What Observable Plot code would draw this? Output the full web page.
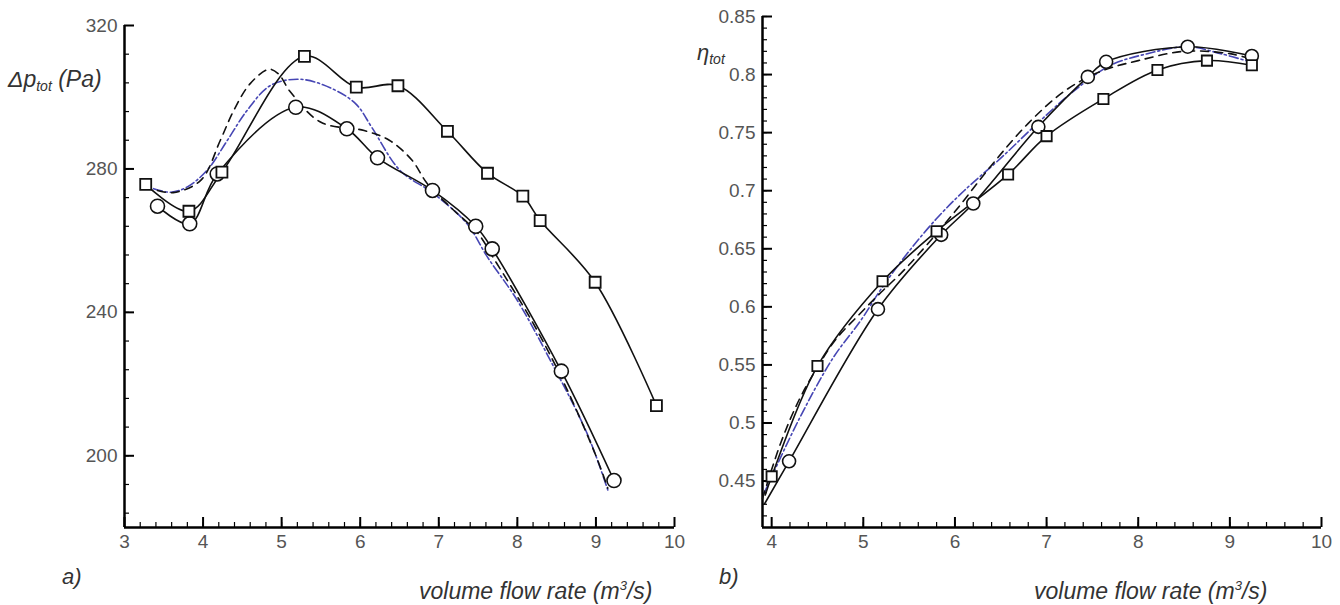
<!DOCTYPE html>
<html><head><meta charset="utf-8">
<script src="https://cdn.jsdelivr.net/npm/d3@7"></script>
<script src="https://cdn.jsdelivr.net/npm/@observablehq/plot@0.6"></script>
<style>
body{margin:0;background:#fff;font-family:"Liberation Sans",Arial,sans-serif;}
#wrap{position:relative;width:1340px;height:605px;overflow:hidden;background:#fff;}
#left{position:absolute;left:0;top:0;}
#right{position:absolute;left:690px;top:0;}
.lbl{position:absolute;font-style:italic;color:#333;white-space:nowrap;line-height:1;}
.sb{font-size:14px;position:relative;top:4px;}
.sp{font-size:13px;position:relative;top:-9px;}
</style></head><body>
<div id="wrap">
<div id="left"></div><div id="right"></div>
<div class="lbl" style="left:8px;top:68px;font-size:23px">Δp<span class="sb">tot</span> (Pa)</div>
<div class="lbl" style="left:697px;top:42px;font-size:22px">η<span class="sb">tot</span></div>
<div class="lbl" style="left:62px;top:566px;font-size:22px">a)</div>
<div class="lbl" style="left:719px;top:566px;font-size:22px">b)</div>
<div class="lbl" style="left:419px;top:580px;font-size:23px">volume flow rate (m<span class="sp">3</span>/s)</div>
<div class="lbl" style="left:1034px;top:580px;font-size:23px">volume flow rate (m<span class="sp">3</span>/s)</div>
</div>
<script>
// ---------- Panel a) total pressure rise ----------
const aXTicks = [3, 4, 5, 6, 7, 8, 9, 10];
const aYTicks = [200, 240, 280, 320];
const aSqX = [3.27, 3.82, 4.24, 5.29, 5.95, 6.48, 7.11, 7.62, 8.07, 8.29, 8.99, 9.77];
const aSqY = [275.7, 268.2, 279.1, 311.4, 302.8, 303.2, 290.5, 278.8, 272.4, 265.6, 248.4, 214.0];
const aCiX = [3.42, 3.83, 4.18, 5.18, 5.83, 6.22, 6.92, 7.47, 7.68, 8.56, 9.23];
const aCiY = [269.6, 264.7, 278.6, 297.2, 291.2, 283.1, 274.0, 264.0, 257.7, 223.6, 193.1];
const aDaX = [3.42, 3.62, 3.97, 4.22, 4.39, 4.6, 4.84, 4.96, 5.11, 5.5, 6.05, 6.37, 6.66, 6.85, 7.15, 7.5, 7.7, 8.2, 8.6, 9.0, 9.15];
const aDaY = [274, 273.4, 276.8, 288, 296.3, 303.8, 307.8, 306.5, 301.5, 293, 290.7, 288, 282.4, 276, 269.3, 262, 255, 237, 220, 200, 191];
const aBlX = [3.37, 3.59, 3.8, 4.05, 4.31, 4.56, 4.86, 5.24, 5.66, 5.95, 6.15, 6.51, 6.93, 7.36, 7.62, 8.0, 8.42, 8.89, 9.16];
const aBlY = [274.5, 273.5, 275, 279.6, 288, 296.3, 303.3, 305, 302.2, 298, 291.5, 279.5, 273.2, 264.7, 255.4, 243.3, 226.6, 206.1, 189.9];

// ---------- Panel b) total efficiency ----------
const bXTicks = [4, 5, 6, 7, 8, 9, 10];
const bYTicks = [0.45, 0.5, 0.55, 0.6, 0.65, 0.7, 0.75, 0.8, 0.85];
const bSqX = [4.0, 4.5, 5.21, 5.8, 6.58, 7.0, 7.62, 8.21, 8.75, 9.24];
const bSqY = [0.454, 0.549, 0.622, 0.665, 0.714, 0.747, 0.779, 0.804, 0.812, 0.808];
const bSqLeadX = [3.93];
const bSqLeadY = [0.438];
const bCiX = [4.19, 5.16, 5.85, 6.2, 6.91, 7.45, 7.65, 8.54, 9.24];
const bCiY = [0.467, 0.598, 0.662, 0.689, 0.755, 0.798, 0.811, 0.824, 0.816];
const bCiLeadX = [3.92];
const bCiLeadY = [0.43];
const bDaX = [3.9, 4.1, 4.3, 4.5, 4.7, 4.95, 5.2, 5.4, 5.6, 6.0, 6.4, 6.8, 7.2, 7.6, 8.0, 8.5, 9.0, 9.25];
const bDaY = [0.435, 0.483, 0.52, 0.548, 0.572, 0.593, 0.613, 0.628, 0.645, 0.682, 0.722, 0.758, 0.786, 0.803, 0.812, 0.82, 0.818, 0.813];
const bBlX = [3.92, 4.31, 4.67, 4.97, 5.2, 5.5, 5.8, 6.1, 6.5, 6.9, 7.3, 7.7, 8.1, 8.54, 8.9, 9.22];
const bBlY = [0.44, 0.505, 0.556, 0.588, 0.616, 0.648, 0.676, 0.70, 0.728, 0.758, 0.786, 0.808, 0.818, 0.824, 0.818, 0.811];

const rows = (xs, ys) => xs.map((x, i) => ({x, y: ys[i]}));
const BLUE = "#4646b4";
const tickFmt = d => String(d);

function panel({width, marginLeft, marginRight, marginTop, xDomain, yDomain, xTicks, yTicks, xMinor, yMinor, series, rSq, rCi}) {
  const [sq, sqLine, ci, ciLine, da, bl] = series;
  const height = 560, marginBottom = 33;
  const ph = height - marginTop - marginBottom;
  const pw = width - marginLeft - marginRight;
  return Plot.plot({
    width, height, marginLeft, marginRight, marginTop, marginBottom,
    x: {domain: xDomain, label: null},
    y: {domain: yDomain, label: null},
    style: {fontFamily: "'Liberation Sans', Arial, sans-serif", fontSize: "19px", color: "#555", background: "transparent", overflow: "visible"},
    marks: [
      Plot.axisX({ticks: xTicks, tickSize: 0, tickPadding: 7, tickFormat: tickFmt, label: null, fill: "#555"}),
      Plot.axisY({ticks: yTicks, tickSize: 0, tickPadding: 7, tickFormat: tickFmt, label: null, fill: "#555"}),
      // inward tick marks (minor then major)
      Plot.tickX(xMinor, {x: d => d, insetTop: ph - 5, stroke: "#000", strokeWidth: 1.2}),
      Plot.tickX(xTicks, {x: d => d, insetTop: ph - 10, stroke: "#000", strokeWidth: 2}),
      Plot.tickY(yMinor, {y: d => d, insetRight: pw - 5, stroke: "#000", strokeWidth: 1.2}),
      Plot.tickY(yTicks, {y: d => d, insetRight: pw - 10, stroke: "#000", strokeWidth: 2}),
      Plot.ruleX([xDomain[0]], {stroke: "#000", strokeWidth: 2.5}),
      Plot.ruleY([yDomain[0]], {stroke: "#000", strokeWidth: 2.5}),
      Plot.line(bl, {x: "x", y: "y", stroke: BLUE, strokeWidth: 1.6, strokeDasharray: "9,3,2,3", curve: "catmull-rom"}),
      Plot.line(da, {x: "x", y: "y", stroke: "#111", strokeWidth: 1.6, strokeDasharray: "8,6", curve: "catmull-rom"}),
      Plot.line(sqLine, {x: "x", y: "y", stroke: "#111", strokeWidth: 1.6, curve: "catmull-rom"}),
      Plot.line(ciLine, {x: "x", y: "y", stroke: "#111", strokeWidth: 1.6, curve: "catmull-rom"}),
      Plot.dot(ci, {x: "x", y: "y", r: rCi, fill: "#fff", stroke: "#111", strokeWidth: 1.6}),
      Plot.dot(sq, {x: "x", y: "y", r: rSq, symbol: "square", fill: "#fff", stroke: "#111", strokeWidth: 1.8})
    ]
  });
}

const aSq = rows(aSqX, aSqY), aCi = rows(aCiX, aCiY);
document.getElementById("left").append(panel({
  width: 690, marginLeft: 124, marginRight: 16, marginTop: 25,
  xDomain: [3, 10], yDomain: [180, 320],
  xTicks: aXTicks, yTicks: aYTicks,
  xMinor: d3.range(3.2, 10, 0.2), yMinor: d3.range(184, 320, 8),
  series: [aSq, aSq, aCi, aCi, rows(aDaX, aDaY), rows(aBlX, aBlY)],
  rSq: 6.2, rCi: 7
}));

const bSq = rows(bSqX, bSqY), bCi = rows(bCiX, bCiY);
document.getElementById("right").append(panel({
  width: 650, marginLeft: 72, marginRight: 19, marginTop: 16,
  xDomain: [3.9, 10], yDomain: [0.41, 0.85],
  xTicks: bXTicks, yTicks: bYTicks,
  xMinor: d3.range(4.2, 10, 0.2), yMinor: d3.range(0.42, 0.855, 0.01),
  series: [bSq, rows(bSqLeadX, bSqLeadY).concat(bSq), bCi, rows(bCiLeadX, bCiLeadY).concat(bCi), rows(bDaX, bDaY), rows(bBlX, bBlY)],
  rSq: 5.8, rCi: 6.5
}));
</script>
</body></html>
